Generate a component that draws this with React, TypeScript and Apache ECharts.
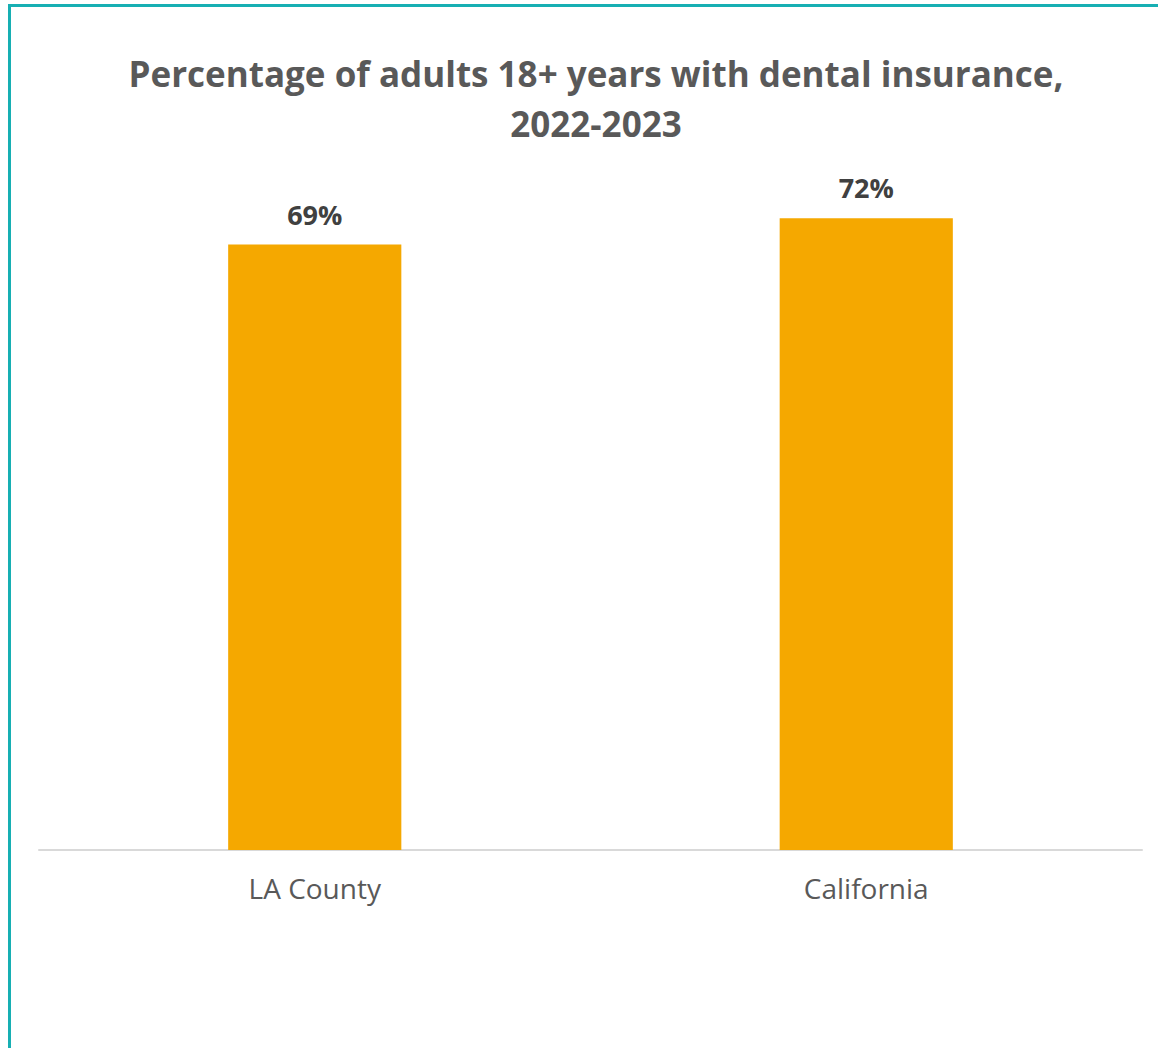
import React, { useEffect, useRef } from "react";
import * as echarts from "echarts";

const categories = ["LA County", "California"];
const values = [69, 72];
const titleText = "Percentage of adults 18+ years with dental insurance,\n2022-2023";

export default function App() {
  const ref = useRef<HTMLDivElement>(null);
  useEffect(() => {
    const chart = echarts.init(ref.current!, null, { renderer: "svg" });
    chart.setOption({
      animation: false,
      backgroundColor: "#ffffff",
      title: {
        text: titleText,
        left: 591,
        textAlign: "center",
        top: 43,
        textStyle: {
          fontFamily: "Open Sans",
          fontWeight: "bold",
          fontSize: 35,
          color: "#595959",
          lineHeight: 50,
        },
      },
      graphic: [
        { type: "line", shape: { x1: 9.5, y1: 5, x2: 9.5, y2: 1048 }, style: { stroke: "#17AFB3", lineWidth: 3 } },
        { type: "line", shape: { x1: 8, y1: 5.5, x2: 1158, y2: 5.5 }, style: { stroke: "#17AFB3", lineWidth: 3 } },
      ],
      grid: { left: 39, right: 16, top: 148, bottom: 198, containLabel: false },
      xAxis: {
        type: "category",
        data: categories,
        axisLine: { lineStyle: { color: "#D9D9D9", width: 2 } },
        axisTick: { show: false },
        axisLabel: { fontFamily: "Open Sans", fontSize: 28, color: "#595959", margin: 24 },
      },
      yAxis: {
        type: "value",
        min: 0,
        max: 80,
        show: false,
        splitLine: { show: false },
      },
      series: [
        {
          type: "bar",
          data: values,
          barWidth: "31.4%",
          itemStyle: { color: "#F5A800" },
          label: {
            show: true,
            position: "top",
            distance: 17,
            formatter: "{c}%",
            fontFamily: "Open Sans",
            fontWeight: "bold",
            fontSize: 27,
            color: "#404040",
          },
        },
      ],
    });
    return () => chart.dispose();
  }, []);
  return (
    <div
      ref={ref}
      style={{ position: "fixed", left: 0, top: 0, width: 1158, height: 1048 }}
    />
  );
}
